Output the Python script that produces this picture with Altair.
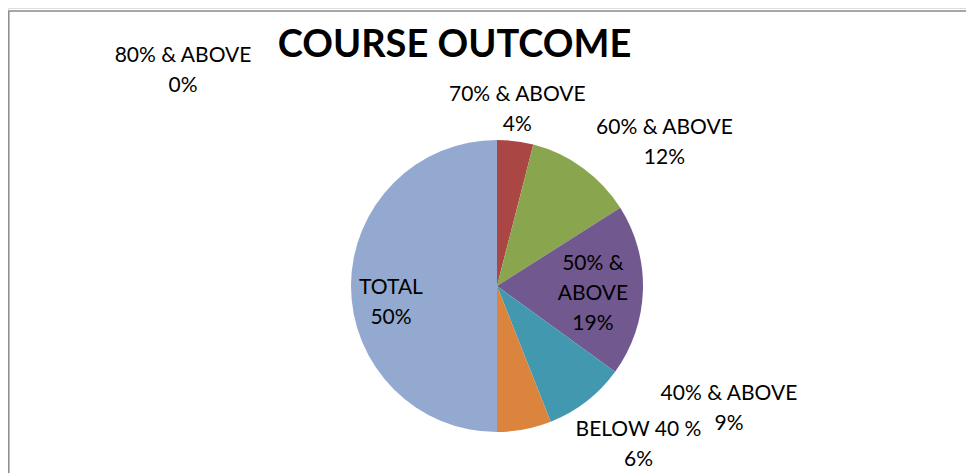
import altair as alt
import pandas as pd

# ---- data ----
categories = ["80% & ABOVE", "70% & ABOVE", "60% & ABOVE", "50% & ABOVE",
              "40% & ABOVE", "BELOW 40 %", "TOTAL"]
values = [0, 4, 12, 19, 9, 6, 50]
label_names = ["80% & ABOVE", "70% & ABOVE", "60% & ABOVE", "50% &\nABOVE",
               "40% & ABOVE", "BELOW 40 %", "TOTAL"]
title_text = "COURSE OUTCOME"

# ---- styles ----
colors = ["#4572A7", "#AA4643", "#89A54E", "#71588F", "#4198AF", "#DB843D", "#93A9CF"]
# per-label placement (radius from centre, extra dx, dy) mimicking Excel's layout
label_place = {
    "80% & ABOVE": (224, -314, 0),
    "70% & ABOVE": (186, -3, 0),
    "60% & ABOVE": (210, 44, 18),
    "50% & ABOVE": (96, 0, -19),
    "40% & ABOVE": (230, 91, -68),
    "BELOW 40 %": (200, 104, -46),
    "TOTAL": (106, 0, 8),
}

W, H = 958, 465
CX, CY = 489, 278
R = 146

df = pd.DataFrame({
    "category": categories,
    "value": values,
    "order": list(range(len(categories))),
    "label": [f"{n}\n{v}%" for n, v in zip(label_names, values)],
})

theta_scale = alt.Scale(domain=[0, 100])
base = alt.Chart(df)

pie = base.mark_arc(radius=R).encode(
    theta=alt.Theta("value:Q", stack=True, scale=theta_scale),
    color=alt.Color("category:N", scale=alt.Scale(domain=categories, range=colors), legend=None),
    order=alt.Order("order:Q"),
    x=alt.value(CX),
    y=alt.value(CY),
)

label_layers = []
for cat, (r, dx, dy) in label_place.items():
    lay = (
        base.transform_window(cum="sum(value)", sort=[alt.SortField("order")], frame=[None, 0])
        .transform_calculate(mid="datum.cum - datum.value / 2")
        .transform_filter(alt.datum.category == cat)
        .mark_text(radius=r, dx=dx, dy=dy, font="Lato", fontSize=21, lineHeight=30,
                   lineBreak="\n", align="center", baseline="alphabetic", color="#000000")
        .encode(
            theta=alt.Theta("mid:Q", stack=False, scale=theta_scale),
            text="label:N",
            x=alt.value(CX),
            y=alt.value(CY),
        )
    )
    label_layers.append(lay)

title = alt.Chart(pd.DataFrame({"t": [title_text]})).mark_text(
    font="Lato", fontWeight="bold", fontSize=38,
    align="center", baseline="alphabetic", color="#000000"
).encode(text="t:N", x=alt.value(446.5), y=alt.value(48.7))

frame_df = pd.DataFrame({"k": [0]})
top_rule = alt.Chart(frame_df).mark_rule(color="#8a8a8a", strokeWidth=1.5).encode(
    x=alt.value(0.5), x2=alt.value(W), y=alt.value(3)
)
left_rule = alt.Chart(frame_df).mark_rule(color="#8a8a8a", strokeWidth=1.5).encode(
    x=alt.value(0.8), y=alt.value(3), y2=alt.value(H)
)

chart = alt.layer(pie, *label_layers, title, top_rule, left_rule).properties(
    width=W, height=H, autosize=alt.AutoSizeParams(type="none"), padding=0
).configure_view(stroke=None).configure(background="white")

chart.save("out.html", embed_options={"renderer": "svg", "actions": False})
